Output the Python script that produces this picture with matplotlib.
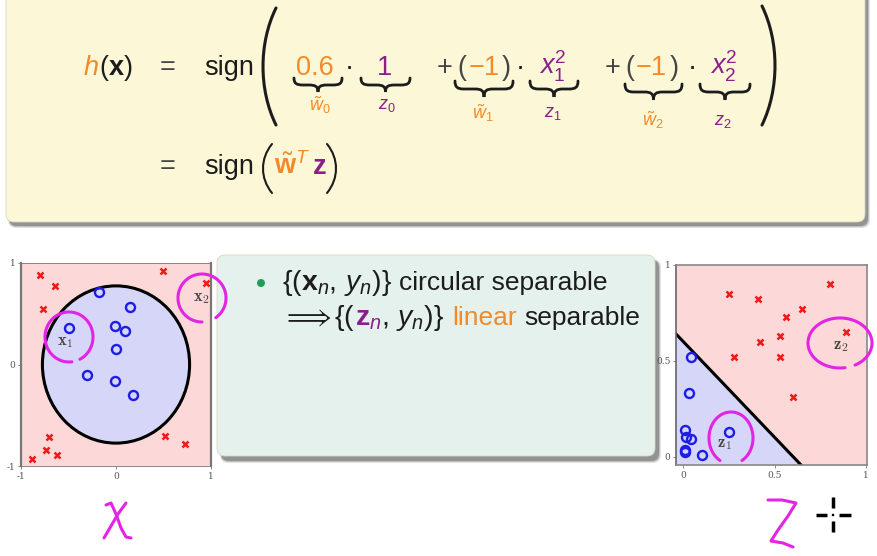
import numpy as np
import matplotlib
matplotlib.use("Agg")
import matplotlib.pyplot as plt
from matplotlib.patches import FancyBboxPatch, PathPatch, Circle
from matplotlib.path import Path

# ---------------- data ----------------
weights = [0.6, -1.0, -1.0]            # w0, w1, w2 of the boundary
x_circle_x1 = [-0.18, 0.15, -0.49, -0.01, 0.09, 0.00, -0.31, -0.01, 0.18]
x_circle_x2 = [0.71, 0.57, 0.36, 0.38, 0.33, 0.15, -0.10, -0.16, -0.30]
x_cross_x1 = [-0.80, -0.64, -0.77, 0.49, 0.95, -0.71, -0.74, -0.62, -0.88, 0.52, 0.73]
x_cross_x2 = [0.88, 0.77, 0.55, 0.92, 0.80, -0.71, -0.84, -0.89, -0.93, -0.70, -0.78]
z_circle_z1 = [0.04, 0.03, 0.25, 0.01, 0.015, 0.04, 0.01, 0.01, 0.10]
z_circle_z2 = [0.52, 0.33, 0.13, 0.14, 0.10, 0.09, 0.035, 0.025, 0.01]
z_cross_z1 = [0.25, 0.41, 0.80, 0.65, 0.56, 0.53, 0.42, 0.89, 0.28, 0.53, 0.60]
z_cross_z2 = [0.85, 0.82, 0.90, 0.77, 0.73, 0.63, 0.60, 0.65, 0.52, 0.52, 0.31]
x_ticks = [-1, 0, 1]
x_ticklabels = ["-1", "0", "1"]
z_ticks = [0, 0.5, 1]
z_ticklabels = ["0", "0.5", "1"]

# ---------------- style ----------------
W, H = 878, 556
plt.rcParams["font.family"] = ["Liberation Sans", "DejaVu Sans"]
plt.rcParams["mathtext.fontset"] = "custom"
plt.rcParams["mathtext.rm"] = "Liberation Sans"
plt.rcParams["mathtext.it"] = "Liberation Sans:italic"
plt.rcParams["mathtext.bf"] = "Liberation Sans:bold"
plt.rcParams["mathtext.sf"] = "Liberation Sans"

ORANGE = "#f28a2a"
PURPLE = "#8a1f8a"
BLACK = "#1c1c1c"
GRAY = "#444444"
MAG = "#e424e4"
PINK = "#fdd8d8"
LAV = "#d6d6f8"
BLUE = "#1c1ce6"
RED = "#f01818"

fig = plt.figure(figsize=(W / 100, H / 100), dpi=100, facecolor="white")

# background overlay (pixel coordinates, y down)
bg = fig.add_axes([0, 0, 1, 1], zorder=0)
bg.set_xlim(0, W); bg.set_ylim(H, 0); bg.axis("off")
fg = fig.add_axes([0, 0, 1, 1], zorder=5)
fg.set_xlim(0, W); fg.set_ylim(H, 0); fg.axis("off")


def rbox(ax, x0, y0, x1, y1, fc, shadow=(3, 4), rad=8):
    for k, a in enumerate([0.10, 0.15, 0.25, 0.35]):
        s = 3 - k
        ax.add_patch(FancyBboxPatch((x0 + shadow[0] - s * 0.3, y0 + shadow[1] - s * 0.3),
                                    x1 - x0 + s, y1 - y0 + s,
                                    boxstyle=f"round,pad=0,rounding_size={rad}",
                                    fc="#555555", ec="none", alpha=a))
    ax.add_patch(FancyBboxPatch((x0, y0), x1 - x0, y1 - y0,
                                boxstyle=f"round,pad=0,rounding_size={rad}",
                                fc=fc, ec="#d8d8c0", lw=0.6))


rbox(bg, 6, -12, 865, 222, "#fcf7d6")
rbox(bg, 217, 255, 655, 456, "#e5f1ed", shadow=(4, 5))


def brace(ax, x0, x1, y0, h, lw=2.0, color=BLACK):
    xm = (x0 + x1) / 2
    hh = h / 2
    q = min(9, (x1 - x0) / 4)
    P = [(x0, y0),
         (x0, y0 + hh * 0.8), (x0 + q * 0.3, y0 + hh), (x0 + q, y0 + hh),
         (xm - q, y0 + hh),
         (xm - q * 0.3, y0 + hh), (xm, y0 + hh * 1.2), (xm, y0 + h),
         (xm, y0 + hh * 1.2), (xm + q * 0.3, y0 + hh), (xm + q, y0 + hh),
         (x1 - q, y0 + hh),
         (x1 - q * 0.3, y0 + hh), (x1, y0 + hh * 0.8), (x1, y0)]
    C = [Path.MOVETO] + [Path.CURVE4] * 3 + [Path.LINETO] + [Path.CURVE4] * 6 + \
        [Path.LINETO] + [Path.CURVE4] * 3
    ax.add_patch(PathPatch(Path(P, C), fc="none", ec=color, lw=lw, capstyle="round"))


def paren(ax, x, ytop, ybot, left=True, b=13, lw=2.0, color=BLACK):
    s = 1 if left else -1
    xe = x + s * b
    xc = x - s * b / 3
    h = ybot - ytop
    P = [(xe, ytop), (xc, ytop + 0.3 * h), (xc, ybot - 0.3 * h), (xe, ybot)]
    C = [Path.MOVETO, Path.CURVE4, Path.CURVE4, Path.CURVE4]
    ax.add_patch(PathPatch(Path(P, C), fc="none", ec=color, lw=lw, capstyle="round"))


def seq(ax, x, y, pieces, size):
    r = fig.canvas.get_renderer()
    for piece in pieces:
        s, c, gap = piece[:3]
        fs = piece[3] if len(piece) > 3 else size
        t = ax.text(x, y, s, color=c, fontsize=fs, ha="left", va="baseline")
        bb = t.get_window_extent(r)
        x = bb.x1 + gap
    return x


# ---------------- formula (yellow box) ----------------
FS = 19.5
B1 = 75
seq(fg, 83, B1, [("$h$", ORANGE, 0), ("$(\\mathbf{x})$", BLACK, 0)], FS)
fg.text(168, B1, "=", color=GRAY, fontsize=FS, ha="center", va="baseline")
fg.text(204, B1, "sign", color=BLACK, fontsize=FS, ha="left", va="baseline")
paren(fg, 263, 8, 125, left=True, b=13, lw=2.2)
paren(fg, 775, 6, 125, left=False, b=13, lw=2.2)
fg.text(315, B1, "0.6", color=ORANGE, fontsize=FS, ha="center", va="baseline")
fg.text(349, B1 - 7, "\u00b7", color=BLACK, fontsize=FS, ha="center", va="center")
fg.text(385, B1, "1", color=PURPLE, fontsize=FS, ha="center", va="baseline")
for (xp, xo, xc, xd) in [(445, 484, 506, 520), (613, 651, 674, 692)]:
    fg.text(xp, B1, "+", color=GRAY, fontsize=FS, ha="center", va="baseline")
    fg.text(xp + 17, B1, "(", color=GRAY, fontsize=FS, ha="center", va="baseline")
    fg.text(xo, B1, "\u22121", color=ORANGE, fontsize=FS, ha="center", va="baseline")
    fg.text(xc, B1, ")", color=GRAY, fontsize=FS, ha="center", va="baseline")
    fg.text(xd, B1 - 7, "\u00b7", color=BLACK, fontsize=FS, ha="center", va="center")
fg.text(553, B1, "$x_1^2$", color=PURPLE, fontsize=FS, ha="center", va="baseline")
fg.text(724, B1, "$x_2^2$", color=PURPLE, fontsize=FS, ha="center", va="baseline")

brace(fg, 294, 342, 78, 14)
brace(fg, 361, 410, 78, 14)
brace(fg, 455, 513, 81, 16)
brace(fg, 530, 578, 81, 16)
brace(fg, 625, 682, 84, 16)
brace(fg, 700, 750, 84, 16)
LS = 13
fg.text(320, 105, "$\\tilde{w}_0$", color=ORANGE, fontsize=LS, ha="center", va="center")
fg.text(387, 106, "$z_0$", color=PURPLE, fontsize=LS, ha="center", va="center")
fg.text(483, 113, "$\\tilde{w}_1$", color=ORANGE, fontsize=LS, ha="center", va="center")
fg.text(553, 114, "$z_1$", color=PURPLE, fontsize=LS, ha="center", va="center")
fg.text(653, 120, "$\\tilde{w}_2$", color=ORANGE, fontsize=LS, ha="center", va="center")
fg.text(723, 121, "$z_2$", color=PURPLE, fontsize=LS, ha="center", va="center")

B2 = 174
fg.text(168, B2, "=", color=GRAY, fontsize=FS, ha="center", va="baseline")
fg.text(204, B2, "sign", color=BLACK, fontsize=FS, ha="left", va="baseline")
paren(fg, 263, 144, 193, left=True, b=9, lw=1.5)
seq(fg, 274, B2, [("$\\tilde{\\mathbf{w}}^T$", ORANGE, 2), ("$\\mathbf{z}$", PURPLE, 0)], FS)
paren(fg, 336, 144, 193, left=False, b=9, lw=1.5)

# ---------------- middle box ----------------
TS = 19
MS = 20.5
fg.add_patch(Circle((261, 283), 4.0, fc="#1f9e5a", ec="none"))
seq(fg, 282, 290, [("$\\{(\\mathbf{x}_n,\\, y_n)\\}$", BLACK, 7, MS),
                   ("circular separable", BLACK, 0)], TS)
seq(fg, 282, 325, [("$\\Longrightarrow$", BLACK, 2, MS), ("$\\{($", BLACK, 0, MS),
                   ("$\\mathbf{z}_n$", PURPLE, 0, MS), ("$,\\, y_n)\\}$", BLACK, 8, MS),
                   ("linear", ORANGE, 7), ("separable", BLACK, 0)], TS)

# ---------------- left plot (X space) ----------------
axL = fig.add_axes([21 / W, 1 - 466 / H, 190 / W, 203 / H], zorder=2)
axL.set_facecolor(PINK)
axL.add_patch(Circle((0, 0), np.sqrt(weights[0]), fc=LAV, ec="black", lw=2.2, zorder=1))
axL.plot(x_circle_x1, x_circle_x2, "o", mfc="none", mec=BLUE, ms=6.5, mew=1.7, zorder=3)
axL.plot(x_cross_x1, x_cross_x2, "x", color=RED, ms=4.5, mew=1.8, zorder=3)
axL.set_xlim(-1, 1)
axL.set_ylim(-1, 1)
axL.set_xticks(x_ticks, x_ticklabels, fontfamily="DejaVu Serif", fontsize=6.5, color="#555")
axL.set_yticks(x_ticks, x_ticklabels, fontfamily="DejaVu Serif", fontsize=6.5, color="#555")
axL.tick_params(length=2, width=0.6, color="#777", pad=2)
for k, sp in axL.spines.items():
    sp.set_color("#777")
    sp.set_linewidth(1.6 if k in ("left", "right") else 0.6)

# ---------------- right plot (Z space) ----------------
axR = fig.add_axes([676 / W, 1 - 465 / H, 191 / W, 200 / H], zorder=2)
axR.set_facecolor(PINK)
zlo, zhi, ylo, yhi = -0.04, 1.005, -0.044, 1.0
zz = np.array([zlo, zhi])
bound = (weights[0] + weights[1] * zz) / (-weights[2])
axR.fill_between(zz, ylo, bound, color=LAV, lw=0, zorder=1)
axR.plot(zz, bound, color="black", lw=2.2, zorder=2)
axR.plot(z_circle_z1, z_circle_z2, "o", mfc="none", mec=BLUE, ms=6.5, mew=1.7, zorder=3)
axR.plot(z_cross_z1, z_cross_z2, "x", color=RED, ms=4.5, mew=1.8, zorder=3)
axR.set_xlim(zlo, zhi)
axR.set_ylim(ylo, yhi)
axR.set_xticks(z_ticks, z_ticklabels, fontfamily="DejaVu Serif", fontsize=6.5, color="#555")
axR.set_yticks(z_ticks, z_ticklabels, fontfamily="DejaVu Serif", fontsize=6.5, color="#555")
axR.tick_params(length=2, width=0.6, color="#777", pad=2)
for k, sp in axR.spines.items():
    sp.set_color("#666" if k == "left" else "#888")
    sp.set_linewidth(1.2)

# ---------------- handwritten annotations ----------------
def loop(ax, cx, cy, rx, ry, t0, t1):
    t = np.radians(np.linspace(t0, t1, 120))
    ax.plot(cx + rx * np.cos(t), cy - ry * np.sin(t), color=MAG, lw=2.2,
            solid_capstyle="round")


loop(fg, 69, 337, 24, 25, -63, 277)
loop(fg, 202, 298, 24, 24, -55, 270)
loop(fg, 731, 438, 22, 26, -60, 240)
loop(fg, 840, 343, 32, 25, -62, 279)

lab = dict(color="#444", fontsize=12, ha="center", va="center", math_fontfamily="cm")
fg.text(65, 343, "$\\mathbf{x}_1$", **lab)
fg.text(201, 299, "$\\mathbf{x}_2$", **lab)
fg.text(724, 445, "$\\mathbf{z}_1$", **lab)
fg.text(841, 346, "$\\mathbf{z}_2$", **lab)

# chi
fg.plot([106, 111, 116, 121, 126, 131], [505, 503, 514, 528, 537, 538], color=MAG, lw=2.2,
        solid_capstyle="round")
fg.plot([126, 118, 111, 104], [503, 514, 526, 538], color=MAG, lw=2.2, solid_capstyle="round")
# Z
fg.plot([768, 782, 796, 788, 778, 771, 783, 793], [500, 500, 503, 516, 530, 541, 543, 547],
        color=MAG, lw=2.2, solid_capstyle="round")
# cursor crosshair
for xs, ys in [([833, 833], [497, 508]), ([833, 833], [521, 532]),
               ([816, 827], [515, 515]), ([839, 851], [515, 515])]:
    fg.plot(xs, ys, color="black", lw=2.5, solid_capstyle="butt")
fg.add_patch(Circle((833, 515), 1.3, fc="black", ec="none"))

fig.savefig("out.png", dpi=100, facecolor="white")
